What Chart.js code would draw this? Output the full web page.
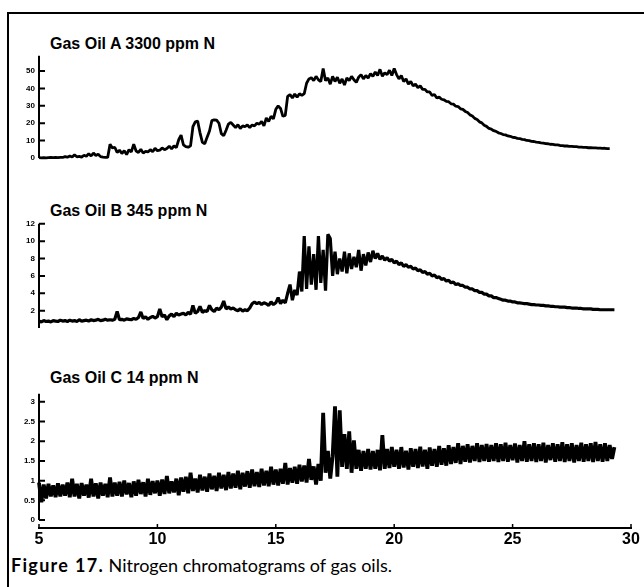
<!DOCTYPE html>
<html><head><meta charset="utf-8">
<script src="https://cdn.jsdelivr.net/npm/chart.js@4.4.0/dist/chart.umd.min.js"></script>
<style>
html,body{margin:0;padding:0;background:#fff;}
body{width:644px;height:587px;position:relative;overflow:hidden;}
#frame{position:absolute;left:7px;top:12px;width:660px;height:620px;border-left:2px solid #000;border-top:2px solid #000;}
canvas{position:absolute;left:0;}
.t{position:absolute;left:50px;font:bold 16px/16px "Liberation Sans",Arial,sans-serif;color:#000;white-space:nowrap;}
#cap{position:absolute;left:11px;top:555px;font:18px/20px Lato,"Open Sans",sans-serif;color:#000;white-space:nowrap;}
#cap b{font-weight:bold;letter-spacing:1.3px;}
</style></head>
<body>
<div id="frame"></div>
<div class="t" style="top:36px">Gas Oil A 3300 ppm N</div>
<div class="t" style="top:203px">Gas Oil B 345 ppm N</div>
<div class="t" style="top:370px">Gas Oil C 14 ppm N</div>
<canvas id="cA" width="644" height="143" style="top:47px"></canvas>
<canvas id="cB" width="644" height="145" style="top:215px"></canvas>
<canvas id="cC" width="644" height="167" style="top:385px"></canvas>
<div id="cap"><b>Figure 17.</b> Nitrogen chromatograms of gas oils.</div>
<script>
const times = [
5,5.1,5.2,5.3,5.4,5.5,5.6,5.7,5.8,5.9,
6,6.1,6.2,6.3,6.4,6.5,6.6,6.7,6.8,6.9,
7,7.1,7.2,7.3,7.4,7.5,7.6,7.7,7.8,7.9,
8,8.1,8.2,8.3,8.4,8.5,8.6,8.7,8.8,8.9,
9,9.1,9.2,9.3,9.4,9.5,9.6,9.7,9.8,9.9,
10,10.1,10.2,10.3,10.4,10.5,10.6,10.7,10.8,10.9,
11,11.1,11.2,11.3,11.4,11.5,11.6,11.7,11.8,11.9,
12,12.1,12.2,12.3,12.4,12.5,12.6,12.7,12.8,12.9,
13,13.1,13.2,13.3,13.4,13.5,13.6,13.7,13.8,13.9,
14,14.1,14.2,14.3,14.4,14.5,14.6,14.7,14.8,14.9,
15,15.1,15.2,15.3,15.4,15.5,15.6,15.7,15.8,15.9,
16,16.1,16.2,16.3,16.4,16.5,16.6,16.7,16.8,16.9,
17,17.1,17.2,17.3,17.4,17.5,17.6,17.7,17.8,17.9,
18,18.1,18.2,18.3,18.4,18.5,18.6,18.7,18.8,18.9,
19,19.1,19.2,19.3,19.4,19.5,19.6,19.7,19.8,19.9,
20,20.1,20.2,20.3,20.4,20.5,20.6,20.7,20.8,20.9,
21,21.1,21.2,21.3,21.4,21.5,21.6,21.7,21.8,21.9,
22,22.1,22.2,22.3,22.4,22.5,22.6,22.7,22.8,22.9,
23,23.1,23.2,23.3,23.4,23.5,23.6,23.7,23.8,23.9,
24,24.1,24.2,24.3,24.4,24.5,24.6,24.7,24.8,24.9,
25,25.1,25.2,25.3,25.4,25.5,25.6,25.7,25.8,25.9,
26,26.1,26.2,26.3,26.4,26.5,26.6,26.7,26.8,26.9,
27,27.1,27.2,27.3,27.4,27.5,27.6,27.7,27.8,27.9,
28,28.1,28.2,28.3,28.4,28.5,28.6,28.7,28.8,28.9,
29,29.1,29.2,29.3];

const gasOilA = [
0.2,0.1,0.2,0.1,0.2,0.3,0.2,0.3,0.2,0.4,0.3,
0.8,0.5,1.2,0.6,1.8,0.7,0.9,0.5,1.6,1.0,
2.5,1.2,2.8,1.5,2.2,0.8,0.5,0.4,0.3,7.9,
5.8,6.2,3.2,4.5,2.6,4.2,2.0,4.8,3.5,8.0,
4.0,3.2,5.0,2.8,3.8,3.5,4.8,3.6,5.6,4.2,
4.5,5.8,4.8,5.5,6.8,5.2,7.0,6.0,10.5,13.2,
7.5,6.5,6.2,7.0,18.0,20.8,21.2,14.5,9.0,8.2,
12.0,15.5,21.5,22.0,21.8,20.0,14.0,12.8,16.0,19.5,
20.5,19.0,17.5,19.2,17.0,18.5,18.0,19.0,17.5,19.0,
18.5,20.0,19.5,21.0,18.5,23.0,21.0,24.0,22.5,28.0,
30.0,28.5,24.0,24.5,35.5,36.5,34.5,36.8,35.0,37.0,
36.0,37.0,43.0,45.5,46.2,44.5,47.0,45.0,44.0,51.5,
44.5,46.0,42.5,47.0,44.0,46.5,43.0,45.5,42.0,46.0,
44.5,47.0,45.0,43.5,46.5,48.0,45.5,47.5,46.0,48.5,
47.0,49.5,47.5,51.0,47.0,49.0,48.0,50.5,47.5,51.5,
48.0,45.5,47.5,44.0,45.5,42.5,44.0,41.5,42.5,40.5,
41.5,39.5,39.5,38.0,38.0,36.0,36.5,34.5,35.0,33.8,
33.5,32.6,32.4,31.2,31.0,29.8,29.6,28.3,28.0,26.8,
26.2,24.8,24.2,22.8,22.2,20.8,20.2,18.8,18.2,17.0,
16.6,15.7,15.3,14.5,14.1,13.5,13.3,12.7,12.5,11.9,
11.8,11.3,11.2,10.7,10.6,10.1,10.0,9.6,9.5,9.1,
9.0,8.7,8.6,8.3,8.2,7.9,7.8,7.5,7.5,7.2,
7.1,6.9,6.9,6.7,6.7,6.5,6.5,6.3,6.3,6.1,
6.1,5.9,6.0,5.8,5.8,5.7,5.7,5.5,5.6,5.4,5.4];

const gasOilB = [
0.8,0.7,0.85,0.75,0.8,0.7,0.85,0.8,0.75,0.9,0.8,
0.85,0.75,0.9,0.8,0.85,0.75,0.95,0.8,0.85,0.9,
0.8,0.95,0.85,0.9,1.0,0.85,0.9,1.0,0.9,0.95,
0.9,1.0,1.9,0.95,1.0,0.9,1.05,1.0,0.95,1.1,
1.0,1.2,1.85,1.1,1.3,1.0,1.2,1.35,1.15,1.3,
2.2,1.3,1.5,0.95,1.4,1.6,1.3,1.7,1.5,1.6,
1.7,1.5,1.8,1.6,2.6,1.7,1.9,2.5,1.8,2.0,
1.9,2.6,2.1,1.9,2.3,2.1,2.4,3.1,2.2,2.4,
2.2,2.3,2.1,2.0,2.2,1.95,2.1,2.0,2.3,2.8,
3.0,2.8,2.95,2.7,2.9,2.8,2.6,3.0,2.7,2.9,
3.5,2.8,3.2,2.9,4.0,5.0,3.2,4.4,3.8,6.5,
4.2,10.6,4.5,9.4,5.0,8.5,4.4,10.6,5.2,9.0,
4.3,10.8,10.3,6.0,8.8,6.2,8.0,6.5,8.8,6.3,
8.6,6.8,8.2,7.0,9.0,6.6,8.5,7.2,8.7,7.6,
8.9,8.0,8.6,7.9,8.3,7.8,8.1,7.7,7.9,7.5,
7.7,7.3,7.5,7.1,7.3,7.0,7.1,6.8,6.9,6.6,
6.7,6.4,6.5,6.2,6.3,6.0,6.1,5.8,5.9,5.6,
5.7,5.4,5.5,5.2,5.3,5.0,5.1,4.9,4.9,4.7,
4.7,4.5,4.5,4.3,4.3,4.1,4.1,3.9,3.9,3.7,
3.7,3.5,3.5,3.4,3.3,3.2,3.2,3.1,3.1,3.0,
3.0,2.9,2.9,2.85,2.8,2.8,2.75,2.7,2.7,2.65,
2.65,2.6,2.6,2.55,2.55,2.5,2.5,2.45,2.45,2.4,
2.4,2.4,2.35,2.35,2.3,2.3,2.3,2.25,2.25,2.2,
2.2,2.2,2.2,2.15,2.15,2.15,2.1,2.1,2.1,2.1,2.1,2.1,2.1];

const gasOilC = [
0.95,0.45,0.9,0.55,0.92,0.6,0.88,0.58,0.93,0.6,0.9,
0.62,0.95,0.58,1.05,0.6,0.92,0.55,0.94,0.62,0.9,
0.57,1.05,0.6,0.93,0.55,0.95,0.62,0.92,0.58,1.08,
0.6,0.95,0.62,0.97,0.6,1.0,0.65,0.94,0.58,0.98,
0.62,1.02,0.66,0.96,0.6,1.05,0.64,0.99,0.68,1.0,
0.62,1.03,0.66,1.12,0.68,0.98,0.7,1.05,0.63,1.08,
0.72,1.1,0.68,1.2,0.74,1.05,0.7,1.15,0.75,1.1,
0.72,1.18,0.78,1.12,0.74,1.2,0.8,1.15,0.76,1.22,
0.8,1.18,0.82,1.25,0.78,1.2,0.85,1.24,0.82,1.28,
0.86,1.22,0.84,1.3,0.88,1.25,0.86,1.35,0.9,1.28,
0.88,1.3,0.92,1.45,0.9,1.32,0.95,1.35,0.92,1.4,
0.98,1.38,0.95,1.55,1.02,1.36,0.9,1.42,1.0,2.72,
1.2,1.75,1.05,1.62,2.88,1.1,2.78,1.35,2.18,1.3,
2.25,1.2,2.02,1.3,1.78,1.25,1.75,1.3,1.8,1.28,
1.75,1.3,1.78,1.26,2.15,1.3,1.8,1.32,1.85,1.35,
1.78,1.3,1.85,1.33,1.76,1.28,1.82,1.35,1.8,1.32,
1.86,1.36,1.78,1.3,1.84,1.38,1.8,1.35,1.88,1.4,
1.82,1.38,1.9,1.42,1.85,1.45,1.95,1.42,1.88,1.48,
1.92,1.46,1.88,1.5,1.95,1.47,1.9,1.5,1.93,1.48,
1.9,1.5,1.95,1.47,1.92,1.5,1.96,1.48,1.9,1.52,
1.94,1.46,1.9,1.5,2.0,1.48,1.92,1.5,1.95,1.47,
1.92,1.5,1.96,1.46,1.9,1.52,1.95,1.48,1.92,1.5,
1.97,1.47,1.92,1.5,1.95,1.46,1.9,1.5,1.96,1.48,
1.92,1.5,1.95,1.47,1.98,1.5,1.92,1.48,1.95,1.5,1.9,1.55,1.85];

const yTicksA = [0,10,20,30,40,50];
const yTicksB = [2,4,6,8,10,12];
const yTicksC = [0,0.5,1,1.5,2,2.5,3];
const xTicks = [5,10,15,20,25,30];

const axisMarks = {
  id:'axisMarks',
  afterDraw(chart){
    const {ctx, chartArea:a, scales:{x,y}} = chart;
    ctx.save();
    ctx.strokeStyle = '#000';
    ctx.lineWidth = 2;
    ctx.beginPath();
    const y0 = Math.min(y.getPixelForValue(0), a.bottom);
    ctx.moveTo(a.left, a.top); ctx.lineTo(a.left, y0);
    y.ticks.forEach(t => { const py = y.getPixelForValue(t.value); ctx.moveTo(a.left, py); ctx.lineTo(a.left + 6, py); });
    ctx.stroke();
    if (x.options.display) {
      ctx.lineWidth = 1.5;
      ctx.beginPath();
      x.ticks.forEach(t => { const px = x.getPixelForValue(t.value); ctx.moveTo(px, a.bottom); ctx.lineTo(px, a.bottom - 4); });
      ctx.stroke();
    }
    ctx.restore();
  }
};

function makePanel(id, values, yMin, yMax, yTicks, lw, showX){
  const pts = values.map((v, i) => ({x: times[i], y: v}));
  return new Chart(document.getElementById(id), {
    type: 'line',
    data: { datasets: [{ data: pts, borderColor: '#000', borderWidth: lw, borderJoinStyle: 'bevel', pointRadius: 0, tension: 0, fill: false, clip: false }] },
    options: {
      responsive: false, animation: false, events: [],
      layout: { padding: { top: 8, right: 13, bottom: showX ? 0 : 8, left: 0 } },
      plugins: { legend: { display: false }, tooltip: { enabled: false }, title: { display: false } },
      scales: {
        x: {
          type: 'linear', min: 5, max: 30, display: showX,
          afterBuildTicks: s => { s.ticks = xTicks.map(v => ({value: v})); },
          afterFit: s => { s.height = 24; },
          grid: { display: false, drawTicks: false },
          border: { display: true, width: 2, color: '#000' },
          ticks: { color: '#000', padding: 2, maxRotation: 0, autoSkip: false,
                   font: { family: '"Liberation Sans", Arial, sans-serif', size: 16, weight: 'bold' } }
        },
        y: {
          type: 'linear', min: yMin, max: yMax,
          afterBuildTicks: s => { s.ticks = yTicks.map(v => ({value: v})); },
          afterFit: s => { s.width = 39; },
          grid: { display: false, drawTicks: false },
          border: { display: false },
          ticks: { color: '#000', padding: 4, callback: v => String(v),
                   font: { family: '"Liberation Sans", Arial, sans-serif', size: 8, weight: 'bold' } }
        }
      }
    },
    plugins: [axisMarks]
  });
}

makePanel('cA', gasOilA, 0, 58.8, yTicksA, 2.8, false);
makePanel('cB', gasOilB, 0, 12, yTicksB, 3.2, false);
makePanel('cC', gasOilC, -0.2, 3.2, yTicksC, 3.8, true);
</script>
</body></html>
